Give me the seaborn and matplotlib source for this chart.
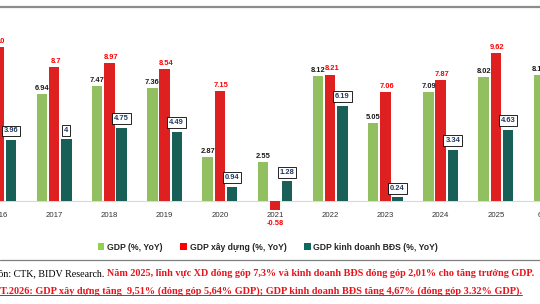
import matplotlib
matplotlib.use("Agg")
import matplotlib.pyplot as plt
import seaborn as sns
import pandas as pd
from matplotlib.lines import Line2D
from matplotlib.patches import Patch

years = ["2016", "2017", "2018", "2019", "2020", "2021", "2022", "2023", "2024", "2025", "6T.2026"]
gdp = [6.21, 6.94, 7.47, 7.36, 2.87, 2.55, 8.12, 5.05, 7.09, 8.02, 8.18]
construction = [10.0, 8.7, 8.97, 8.54, 7.15, -0.58, 8.21, 7.06, 7.87, 9.62, 9.51]
realestate = [3.96, 4.0, 4.75, 4.49, 0.94, 1.28, 6.19, 0.24, 3.34, 4.63, 4.67]
series_names = ["GDP (%, YoY)", "GDP xây dựng (%, YoY)", "GDP kinh doanh BĐS (%, YoY)"]
colors = ["#92D050", "#FF0000", "#0B6B60"]

df = pd.DataFrame({
    "year": years * 3,
    "value": gdp + construction + realestate,
    "series": [series_names[0]] * len(years) + [series_names[1]] * len(years) + [series_names[2]] * len(years),
})

sns.set_theme(style="white")
plt.rcParams["font.family"] = ["Liberation Sans", "DejaVu Sans"]

W, H = 540, 304
fig = plt.figure(figsize=(W / 100, H / 100), dpi=100)
px_per_unit = 55.2
left_px = -1 - 0.75 * px_per_unit
width_px = 11.5 * px_per_unit
yunit = 15.4
base_y = 201
ylo, yhi = -0.6, 11
ax = fig.add_axes([left_px / W, (H - (base_y - ylo * yunit)) / H, width_px / W, (yhi - ylo) * yunit / H])

sns.barplot(data=df, x="year", y="value", hue="series", hue_order=series_names,
            palette=colors, width=0.66, gap=0.15, linewidth=0, ax=ax, legend=False)
ax.set_xlim(-0.75, 10.75)
ax.set_ylim(ylo, yhi)
for s in ax.spines.values():
    s.set_visible(False)
ax.set_yticks([])
ax.set_xlabel("")
ax.set_ylabel("")
ax.tick_params(axis="x", length=0, pad=1, labelsize=5.6, labelcolor="#333333")
ax.axhline(0, color="#D9D9D9", lw=0.8, zorder=0)

lab_colors = ["#1a1a1a", "#FF0000", "#1F3864"]
for k, cont in enumerate(ax.containers[:3]):
    vals = [gdp, construction, realestate][k]
    labels = [f"{v:g}" for v in vals]
    pad = 4 if k == 2 else 1.5
    texts = ax.bar_label(cont, labels=labels, padding=pad, fontsize=5.4, fontweight="bold",
                         color=lab_colors[k], clip_on=False)
    for t, v in zip(texts, vals):
        if v < 0:
            t.xyann = (0, -7)
        elif k == 1:
            t.xyann = (1.2, t.xyann[1])
        if k == 2:
            t.set_bbox(dict(boxstyle="square,pad=0.25", fc="white", ec="black", lw=0.6))

# legend
handles = [Patch(facecolor=c, edgecolor="none") for c in colors]
fig.legend(handles, series_names, loc="center", bbox_to_anchor=(268 / W, 1 - 247 / H), ncol=3,
           frameon=False, prop={"weight": "bold", "size": 6.2, "family": "Liberation Sans"},
           handlelength=0.75, handleheight=0.75, handletextpad=0.3, columnspacing=2.1,
           labelcolor="#262626")

# top line & separator
fig.add_artist(Line2D([0, 1], [1 - 7 / H, 1 - 7 / H], color="#8C8C8C", lw=1.6))
fig.add_artist(Line2D([0, 1], [1 - 260 / H, 1 - 260 / H], color="#7F7F7F", lw=0.9))

# footnotes
fig.canvas.draw()
r = fig.canvas.get_renderer()
serif = ["Liberation Serif", "DejaVu Serif"]
t1 = fig.text(-19 / W, 1 - 274 / H, "Nguồn: CTK, BIDV Research. ", family=serif, fontsize=7.2,
              va="center", ha="left", color="black")
bb = t1.get_window_extent(r)
t2 = fig.text(bb.x1 / W, 1 - 274 / H,
              "Năm 2025, lĩnh vực XD đóng góp 7,3% và kinh doanh BĐS đóng góp 2,01% cho tăng trưởng GDP.",
              family=serif, fontsize=7.3, fontweight="bold", va="center", ha="left", color="#E8141C")
t3 = fig.text(-5 / W, 1 - 291 / H,
              "6T.2026: GDP xây dựng tăng  9,51% (đóng góp 5,64% GDP); GDP kinh doanh BĐS tăng 4,67% (đóng góp 3.32% GDP).",
              family=serif, fontsize=7.4, fontweight="bold", va="center", ha="left", color="#E8141C")
bb3 = t3.get_window_extent(r)
uy = (bb3.y0 + 1) / H
fig.add_artist(Line2D([bb3.x0 / W, bb3.x1 / W], [uy, uy], color="#E8141C", lw=0.7))

fig.savefig("out.png", dpi=100)
